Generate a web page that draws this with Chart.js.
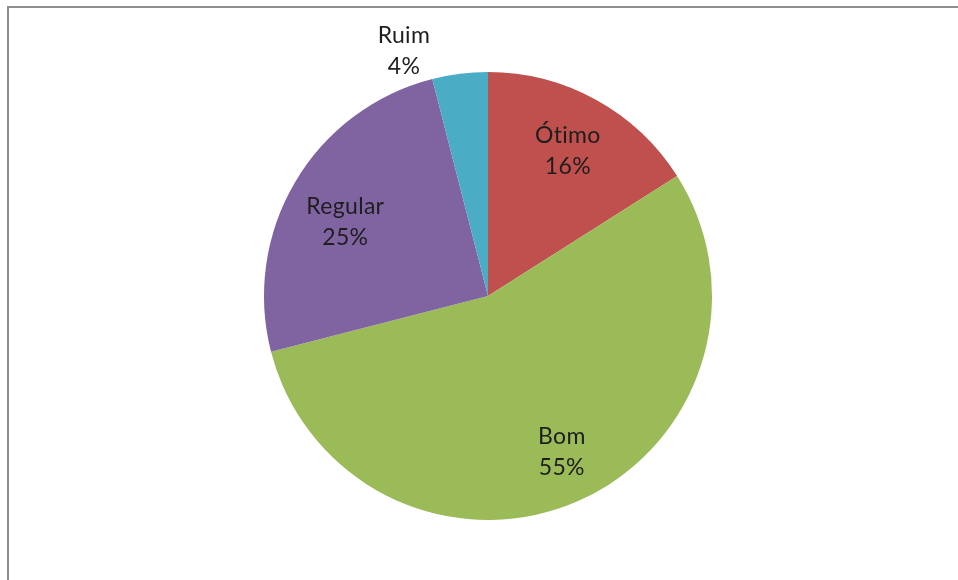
<!DOCTYPE html>
<html>
<head>
<meta charset="utf-8">
<script src="https://cdn.jsdelivr.net/npm/chart.js@4.4.1/dist/chart.umd.min.js"></script>
<style>
    html, body { margin: 0; padding: 0; background: #fff; }
    #frame {
        position: absolute; left: 7px; top: 6px; width: 951px; height: 574px;
        border-top: 2px solid #8e8e8e; border-left: 2px solid #8e8e8e;
        box-sizing: border-box;
    }
    #wrap { position: absolute; left: 0; top: 0; width: 958px; height: 580px; }
</style>
</head>
<body>
<div id="frame"></div>
<div id="wrap"><canvas id="pieChart" width="958" height="580"></canvas></div>
<script>
// avaliação - distribuição das respostas
const categories = ['Ótimo', 'Bom', 'Regular', 'Ruim'];
const percentages = [16, 55, 25, 4];
const sliceColors = ['#C0504D', '#9BBB59', '#8064A2', '#4BACC6'];

const FONT = '23px Lato, "Open Sans", sans-serif';
const LINE_H = 31;

// rótulos "categoria / valor%" dentro das fatias, fora quando a fatia é pequena
const sliceLabels = {
    id: 'sliceLabels',
    afterDatasetsDraw(chart) {
        const ctx = chart.ctx;
        const meta = chart.getDatasetMeta(0);
        ctx.save();
        ctx.font = FONT;
        ctx.letterSpacing = '0.3px';   // evita a ligadura "ti"
        ctx.fillStyle = '#1e1e1e';
        ctx.textAlign = 'center';
        ctx.textBaseline = 'middle';
        meta.data.forEach((arc, i) => {
            const mid = (arc.startAngle + arc.endAngle) / 2;
            const value = percentages[i];
            let x, y;
            if (value < 5) {
                // fatia estreita: rótulo acima e à esquerda da borda
                x = arc.x + Math.cos(mid) * arc.outerRadius - 56;
                y = arc.y + Math.sin(mid) * arc.outerRadius - 23;
            } else {
                const r = arc.outerRadius * 0.74;
                x = arc.x + Math.cos(mid) * r;
                y = arc.y + Math.sin(mid) * r;
                if (i === 2) y += 10;
                if (i === 1) { x += 8; y += 4; }
            }
            ctx.fillText(categories[i], x, y - LINE_H / 2);
            ctx.fillText(value + '%', x, y + LINE_H / 2);
        });
        ctx.restore();
    }
};

new Chart(document.getElementById('pieChart'), {
    type: 'pie',
    data: {
        labels: categories,
        datasets: [{
            data: percentages,
            backgroundColor: sliceColors,
            borderWidth: 0
        }]
    },
    options: {
        responsive: false,
        animation: false,
        layout: { padding: { left: 264, right: 246, top: 72, bottom: 60 } },
        plugins: {
            legend: { display: false },
            tooltip: { enabled: false }
        }
    },
    plugins: [sliceLabels]
});
</script>
</body>
</html>
